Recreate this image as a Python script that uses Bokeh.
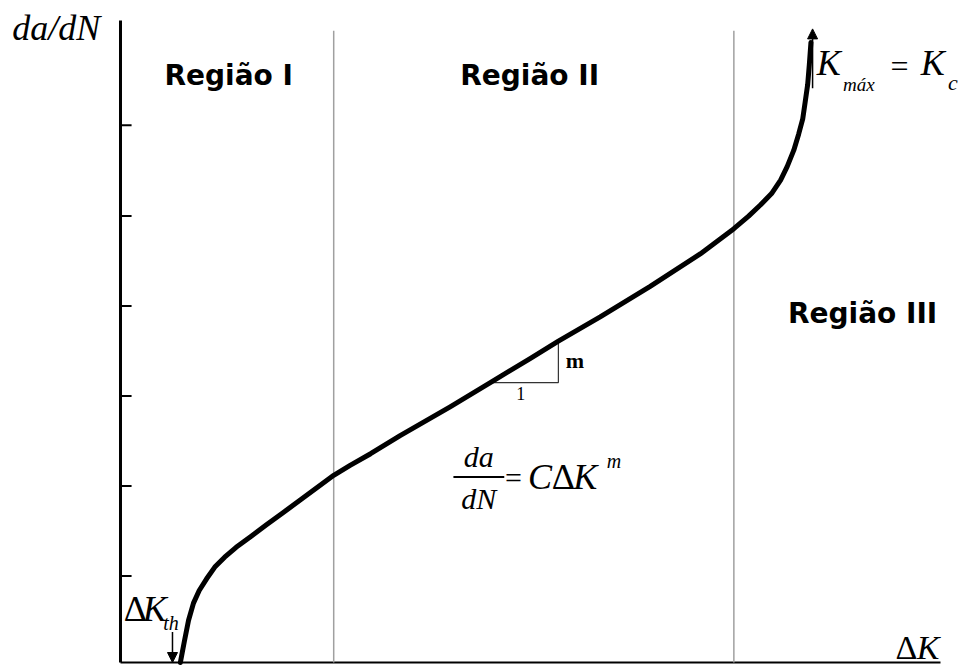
from bokeh.plotting import figure
from bokeh.models import Range1d, Label, Arrow, NormalHead
from bokeh.embed import file_html
from bokeh.resources import INLINE

# Fatigue crack growth curve (schematic, arbitrary units)
delta_k = [0.73, 0.78, 0.83, 0.89, 0.96, 1.05, 1.15, 1.27, 1.41, 1.59, 1.78, 1.99,
           2.20, 2.39, 2.60, 2.80,
           3.05, 3.41, 4.02, 4.51, 5.00, 5.34, 5.85, 6.46, 7.07, 7.48,
           7.66, 7.80, 7.94, 8.05, 8.13, 8.21, 8.27, 8.32, 8.35, 8.38, 8.40, 8.42]
dadn = [0.00, 0.24, 0.47, 0.66, 0.80, 0.93, 1.06, 1.17, 1.28, 1.40, 1.53, 1.67,
        1.81, 1.94, 2.08, 2.19,
        2.32, 2.52, 2.84, 3.11, 3.38, 3.57, 3.84, 4.18, 4.54, 4.82,
        4.96, 5.08, 5.21, 5.36, 5.51, 5.69, 5.87, 6.04, 6.23, 6.42, 6.64, 6.89]

# Region boundaries along ΔK
region_bounds = [2.60, 7.48]
region_top = 7.02
region_names = ["Região I", "Região II", "Região III"]
region_label_x = [1.32, 4.99, 9.05]
region_label_y = [6.52, 6.52, 3.88]

# Unlabelled tick marks on the da/dN axis
y_ticks = [0.96, 1.96, 2.96, 3.96, 4.96, 5.97]
tick_len = 0.135

# Axis extents
X_MAX = 10.0
Y_MAX = 7.133

# Slope triangle on the Paris-law segment (run 1, rise m)
tri_x = [4.51, 5.34, 5.34]
tri_y = [3.11, 3.11, 3.57]

p = figure(width=962, height=666, output_backend="svg", toolbar_location=None,
           x_range=Range1d(-1.4634, 10.2683), y_range=Range1d(-0.0444, 7.3556),
           x_axis_type=None, y_axis_type=None,
           min_border_left=0, min_border_right=0, min_border_top=0,
           min_border_bottom=0)
p.outline_line_color = None
p.background_fill_color = "white"
p.border_fill_color = "white"

# Axes drawn as plain lines with inward ticks on da/dN
p.segment(x0=[0], y0=[0], x1=[0], y1=[Y_MAX], line_color="black", line_width=3)
p.segment(x0=[0], y0=[0], x1=[X_MAX], y1=[0], line_color="black", line_width=2)
p.segment(x0=[0] * len(y_ticks), y0=y_ticks, x1=[tick_len] * len(y_ticks), y1=y_ticks,
          line_color="black", line_width=2)

# Region separators
p.segment(x0=region_bounds, y0=[0] * len(region_bounds),
          x1=region_bounds, y1=[region_top] * len(region_bounds),
          line_color="#a0a0a0", line_width=1.5)

# Slope triangle
p.line(tri_x, tri_y, line_color="#333333", line_width=1.2)

# Crack growth curve
p.line(delta_k, dadn, line_color="black", line_width=5,
       line_join="round", line_cap="round")

# Threshold and fracture toughness arrows
p.add_layout(Arrow(end=NormalHead(size=10, fill_color="black", line_color="black"),
                   x_start=0.634, y_start=0.34, x_end=0.634, y_end=0.0,
                   line_width=1.5, line_color="black"))
p.add_layout(Arrow(end=NormalHead(size=10, fill_color="black", line_color="black"),
                   x_start=8.44, y_start=6.38, x_end=8.44, y_end=7.04,
                   line_width=1.5, line_color="black"))

SANS = "DejaVu Sans"
SERIF = "Liberation Serif"


def label(x, y, text, size, font=SERIF, style="italic", align="left"):
    p.add_layout(Label(x=x, y=y, text=text, text_font=font, text_font_style=style,
                       text_font_size=f"{size}px", text_align=align,
                       text_baseline="middle", text_color="black"))


# Region titles
for name, lx, ly in zip(region_names, region_label_x, region_label_y):
    label(lx, ly, name, 28, font=SANS, style="bold", align="center")

# Axis titles
label(-1.32, 7.05, "da/dN", 36)
label(9.45, 0.17, "Δ", 34, style="normal")
label(9.71, 0.17, "K", 34)

# ΔK_th
label(0.04, 0.60, "Δ", 36, style="normal")
label(0.27, 0.60, "K", 36)
label(0.52, 0.44, "th", 20)

# K_máx = K_c
label(8.49, 6.66, "K", 36)
label(8.81, 6.42, "máx", 19)
label(9.39, 6.63, "=", 32, style="normal")
label(9.76, 6.66, "K", 36)
label(10.09, 6.44, "c", 22)

# Slope triangle labels
label(5.43, 3.36, "m", 22, style="bold")
label(4.88, 2.99, "1", 18, style="normal", align="center")

# Paris law: da/dN = C ΔK^m
label(4.37, 2.29, "da", 30, align="center")
p.segment(x0=[4.06], y0=[2.06], x1=[4.68], y1=[2.06], line_color="black", line_width=2)
label(4.37, 1.82, "dN", 30, align="center")
label(4.69, 2.06, "=", 30, style="normal")
label(4.97, 2.06, "C", 36)
label(5.26, 2.06, "Δ", 36, style="normal")
label(5.52, 2.06, "K", 36)
label(5.93, 2.24, "m", 20)

open("out.html", "w").write(file_html(p, INLINE))
